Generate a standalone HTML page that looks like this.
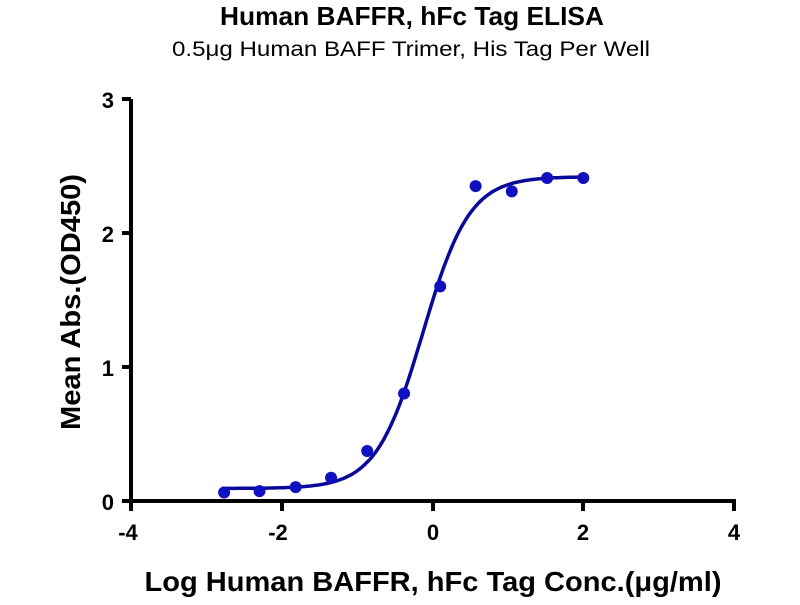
<!DOCTYPE html>
<html><head><meta charset="utf-8"><style>
body{margin:0;background:#fff}
svg text{font-family:"Liberation Sans",Arial,sans-serif}
</style></head><body>
<svg id="s" width="800" height="600" xmlns="http://www.w3.org/2000/svg">
<text x="412" y="25" text-anchor="middle" font-size="26" font-weight="bold" textLength="384" lengthAdjust="spacingAndGlyphs">Human BAFFR, hFc Tag ELISA</text>
<text x="411" y="56" text-anchor="middle" font-size="21" textLength="478" lengthAdjust="spacingAndGlyphs">0.5μg Human BAFF Trimer, His Tag Per Well</text>
<g stroke="#000" stroke-width="4" fill="none">
<line x1="131" y1="99" x2="131" y2="503"/>
<line x1="129" y1="501" x2="736" y2="501"/>
<line x1="122" y1="99" x2="131" y2="99"/>
<line x1="122" y1="233" x2="131" y2="233"/>
<line x1="122" y1="367" x2="131" y2="367"/>
<line x1="122" y1="501" x2="131" y2="501"/>
<line x1="131" y1="501" x2="131" y2="511"/>
<line x1="282" y1="501" x2="282" y2="511"/>
<line x1="433" y1="501" x2="433" y2="511"/>
<line x1="583" y1="501" x2="583" y2="511"/>
<line x1="734" y1="501" x2="734" y2="511"/>
</g>
<g font-size="22" font-weight="bold" text-anchor="end">
<text x="114" y="108">3</text><text x="114" y="242">2</text><text x="114" y="376">1</text><text x="114" y="510">0</text>
</g>
<g font-size="22" font-weight="bold" text-anchor="middle">
<text x="128" y="540">-4</text><text x="278" y="540">-2</text><text x="433" y="540">0</text><text x="583" y="540">2</text><text x="734" y="540">4</text>
</g>
<text x="433" y="591" text-anchor="middle" font-size="28" font-weight="bold" textLength="577" lengthAdjust="spacingAndGlyphs">Log Human BAFFR, hFc Tag Conc.(μg/ml)</text>
<text transform="translate(80,302) rotate(-90)" text-anchor="middle" font-size="28" font-weight="bold" textLength="256" lengthAdjust="spacingAndGlyphs">Mean Abs.(OD450)</text>
<path id="c" fill="none" stroke="#0a0a9a" stroke-width="3.5"/>
<g id="p" fill="#1010c0"></g>
</svg>
<script>
var X=function(v){return 432.7+75.3*v},Y=function(v){return 500.5-133.8*v};
var d="";for(var i=0;i<=200;i++){var x=-2.8+4.8*i/200;var y=0.09+2.33/(1+Math.pow(10,1.4*(-0.13-x)));d+=(i?"L":"M")+X(x).toFixed(1)+","+Y(y).toFixed(1);}
document.getElementById("c").setAttribute("d",d);
var pts=[[-2.77,0.06],[-2.3,0.07],[-1.82,0.1],[-1.35,0.17],[-0.87,0.37],[-0.38,0.8],[0.1,1.6],[0.57,2.35],[1.05,2.31],[1.52,2.41],[2.0,2.41]];
var g=document.getElementById("p");pts.forEach(function(p){var c=document.createElementNS("http://www.w3.org/2000/svg","circle");c.setAttribute("cx",X(p[0]));c.setAttribute("cy",Y(p[1]));c.setAttribute("r",6);g.appendChild(c);});
</script>
</body></html>
